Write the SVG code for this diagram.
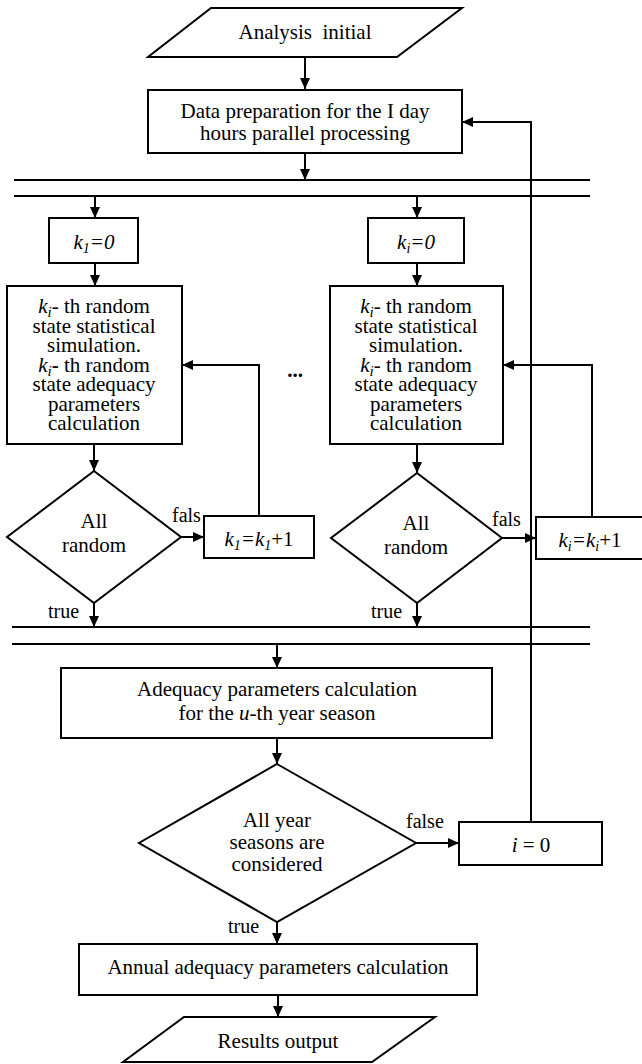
<svg xmlns="http://www.w3.org/2000/svg" width="642" height="1064" viewBox="0 0 642 1064" font-family="'Liberation Serif', 'DejaVu Serif', serif">
<style>
.s{fill:#fff;stroke:#000;stroke-width:2}
.c{fill:none;stroke:#000;stroke-width:2}
text{font-family:'Liberation Serif','DejaVu Serif',serif}
.t{font-size:21px;fill:#000;text-anchor:middle}
.l{font-size:20px;fill:#000}
.i{font-style:italic}
</style>
<defs>
<marker id="a" markerUnits="userSpaceOnUse" markerWidth="11" markerHeight="10" refX="11" refY="5" orient="auto">
<path d="M0,0 L11,5 L0,10 z" fill="#000"/>
</marker>
</defs>
<g id="connectors">
<line class="c" x1="14" y1="180" x2="590" y2="180"/>
<line class="c" x1="14" y1="196" x2="590" y2="196"/>
<line class="c" x1="12" y1="627" x2="590" y2="627"/>
<line class="c" x1="12" y1="644" x2="590" y2="644"/>
<line class="c" x1="305" y1="57" x2="305" y2="89" marker-end="url(#a)"/>
<line class="c" x1="305" y1="153" x2="305" y2="180" marker-end="url(#a)"/>
<line class="c" x1="95" y1="196" x2="95" y2="218" marker-end="url(#a)"/>
<line class="c" x1="417" y1="196" x2="417" y2="218" marker-end="url(#a)"/>
<line class="c" x1="95" y1="263" x2="95" y2="286" marker-end="url(#a)"/>
<line class="c" x1="417" y1="263" x2="417" y2="286" marker-end="url(#a)"/>
<line class="c" x1="94" y1="444" x2="94" y2="471" marker-end="url(#a)"/>
<line class="c" x1="417" y1="444" x2="417" y2="473" marker-end="url(#a)"/>
<line class="c" x1="181" y1="537" x2="204" y2="537" marker-end="url(#a)"/>
<line class="c" x1="502" y1="538" x2="536" y2="538" marker-end="url(#a)"/>
<polyline class="c" points="259,516 259,365 182,365" marker-end="url(#a)"/>
<polyline class="c" points="592,517 592,365 503,365" marker-end="url(#a)"/>
<line class="c" x1="94" y1="603" x2="94" y2="627" marker-end="url(#a)"/>
<line class="c" x1="417" y1="603" x2="417" y2="627" marker-end="url(#a)"/>
<line class="c" x1="277" y1="644" x2="277" y2="668" marker-end="url(#a)"/>
<line class="c" x1="277" y1="738" x2="277" y2="764" marker-end="url(#a)"/>
<line class="c" x1="416" y1="843" x2="459" y2="843" marker-end="url(#a)"/>
<polyline class="c" points="531,822 531,122 462,122" marker-end="url(#a)"/>
<line class="c" x1="277" y1="922" x2="277" y2="944" marker-end="url(#a)"/>
<line class="c" x1="278" y1="995" x2="278" y2="1017" marker-end="url(#a)"/>
<text class="l" x="172" y="522">fals</text>
<text class="l" x="492" y="526">fals</text>
<text class="l" x="48" y="618">true</text>
<text class="l" x="371" y="618">true</text>
<text class="l" x="406" y="828">false</text>
<text class="l" x="228" y="933">true</text>
</g>
<g id="start">
<polygon class="s" points="211,8 462,8 397,57 148,57"/>
<text class="t" x="305" y="39">Analysis&#160; initial</text>
</g>
<g id="prep">
<rect class="s" x="148" y="90" width="314" height="63"/>
<text class="t" x="305" y="118">Data preparation for the I day</text>
<text class="t" x="305" y="140">hours parallel processing</text>
</g>
<g id="k1init">
<rect class="s" x="49" y="218" width="89" height="45"/>
<text class="t i" x="94" y="249">k<tspan font-size="14" dy="4">1</tspan><tspan dy="-4">=0</tspan></text>
</g>
<g id="kiinit">
<rect class="s" x="368" y="218" width="96" height="45"/>
<text class="t i" x="416" y="249">k<tspan font-size="14" dy="4">i</tspan><tspan dy="-4">=0</tspan></text>
</g>
<g id="sim1">
<rect class="s" x="7" y="286" width="175" height="158"/>
<text class="t" x="94" y="313"><tspan class="i">k<tspan font-size="15" dy="4">i</tspan></tspan><tspan dy="-4">- th random</tspan></text>
<text class="t" x="94" y="332.5">state statistical</text>
<text class="t" x="94" y="352">simulation.</text>
<text class="t" x="94" y="371.5"><tspan class="i">k<tspan font-size="15" dy="4">i</tspan></tspan><tspan dy="-4" font-weight="bold">-</tspan> th random</text>
<text class="t" x="94" y="391">state adequacy</text>
<text class="t" x="94" y="410.5">parameters</text>
<text class="t" x="94" y="430">calculation</text>
</g>
<g id="simi">
<rect class="s" x="330" y="286" width="173" height="158"/>
<text class="t" x="416" y="313"><tspan class="i">k<tspan font-size="15" dy="4">i</tspan></tspan><tspan dy="-4">- th random</tspan></text>
<text class="t" x="416" y="332.5">state statistical</text>
<text class="t" x="416" y="352">simulation.</text>
<text class="t" x="416" y="371.5"><tspan class="i">k<tspan font-size="15" dy="4">i</tspan></tspan><tspan dy="-4">- th random</tspan></text>
<text class="t" x="416" y="391">state adequacy</text>
<text class="t" x="416" y="410.5">parameters</text>
<text class="t" x="416" y="430">calculation</text>
</g>
<g id="dots">
<text class="t" x="295" y="377" font-weight="bold">...</text>
</g>
<g id="dec1">
<polygon class="s" points="94,471 181,537 94,603 7,537"/>
<text class="t" x="94" y="528">All</text>
<text class="t" x="94" y="552">random</text>
</g>
<g id="deci">
<polygon class="s" points="417,473 502,538 417,603 331,538"/>
<text class="t" x="416" y="530">All</text>
<text class="t" x="416" y="554">random</text>
</g>
<g id="inc1">
<rect class="s" x="204" y="516" width="110" height="42"/>
<text class="t" x="259" y="546"><tspan class="i">k<tspan font-size="14" dy="4">1</tspan><tspan dy="-4">=k</tspan><tspan font-size="14" dy="4">1</tspan></tspan><tspan dy="-4">+1</tspan></text>
</g>
<g id="inci">
<rect class="s" x="536" y="517" width="120" height="42"/>
<text class="t" x="590" y="547"><tspan class="i">k<tspan font-size="14" dy="4">i</tspan><tspan dy="-4">=k</tspan><tspan font-size="14" dy="4">i</tspan></tspan><tspan dy="-4">+1</tspan></text>
</g>
<g id="season">
<rect class="s" x="61" y="668" width="431" height="70"/>
<text class="t" x="277" y="696">Adequacy parameters calculation</text>
<text class="t" x="277" y="720">for the <tspan class="i">u</tspan>-th year season</text>
</g>
<g id="decyear">
<polygon class="s" points="277,764 416,843 277,922 139,843"/>
<text class="t" x="277" y="827">All year</text>
<text class="t" x="277" y="849">seasons are</text>
<text class="t" x="277" y="871">considered</text>
</g>
<g id="reset">
<rect class="s" x="459" y="822" width="143" height="43"/>
<text class="t" x="531" y="852"><tspan class="i">i</tspan> = 0</text>
</g>
<g id="annual">
<rect class="s" x="79" y="944" width="398" height="51"/>
<text class="t" x="278" y="974">Annual adequacy parameters calculation</text>
</g>
<g id="end">
<polygon class="s" points="184,1017 435,1017 372,1062 123,1062"/>
<text class="t" x="278" y="1048">Results output</text>
</g>
</svg>
